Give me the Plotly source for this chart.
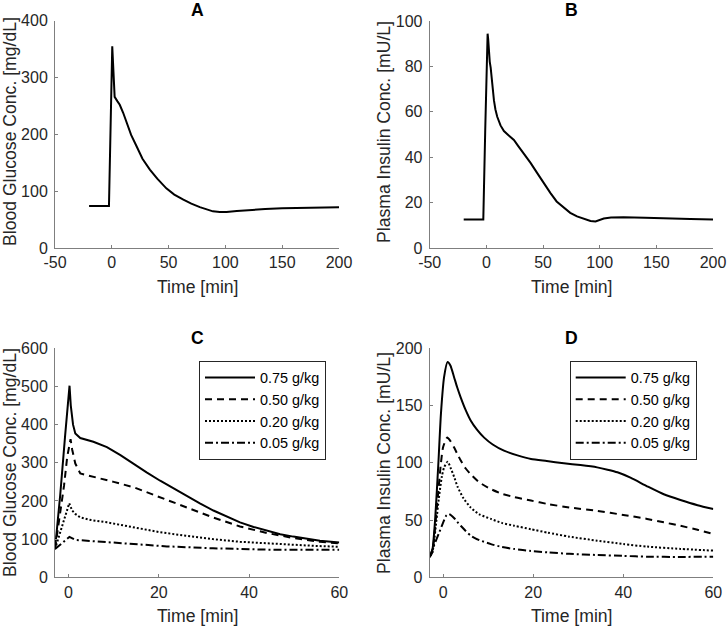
import plotly.graph_objects as go

# ---------------- data ----------------
# Panel A: blood glucose (single dose)
tA = [-20, -2.5, 0.4, 2.5, 5, 7, 10, 13, 17, 21.8, 27, 33.5, 40, 48, 55, 63, 70, 77.5, 84, 89, 95, 101, 110, 121.5, 135, 150, 175, 200]
gA = [74, 74, 355, 266, 258, 252, 238, 220, 199, 179, 157, 138, 122, 105, 94, 85, 78, 72, 67, 64.5, 63.5, 63.5, 65, 67, 68.5, 70, 71, 71.5]

# Panel B: plasma insulin (single dose)
tB = [-20, -2.7, -1, 0, 0.6, 1.1, 1.6, 2.2, 3, 3.8, 5, 6.7, 8, 9.6, 12.5, 15.5, 20, 24.3, 28, 33, 39, 44.9, 50, 56.6, 62, 68.4, 74, 80, 86, 91.9, 96.3, 100, 103.6, 110, 121, 140, 156.5, 180, 200]
iB = [12.6, 12.6, 52, 78, 90, 94.4, 92, 87, 82, 79.5, 72, 65, 61, 57.8, 54, 51.5, 49.5, 47.6, 45, 41.7, 37.5, 33, 29, 24.2, 20.5, 17.6, 15.5, 13.9, 12.8, 11.9, 11.7, 12.2, 13, 13.4, 13.5, 13.3, 13, 12.8, 12.6]

doses = ["0.75 g/kg", "0.50 g/kg", "0.20 g/kg", "0.05 g/kg"]

# Panel C: blood glucose for different doses
tC_075 = [-3, -1.85, -0.74, 0.22, 0.5, 1.0, 1.5, 2.6, 5.5, 7, 8.5, 11.5, 14.4, 17.3, 20.3, 23.2, 26.2, 29.1, 32.1, 35, 38, 41, 43.9, 46.9, 49.8, 52.8, 55.7, 60]
gC_075 = [74, 215, 374, 502, 450, 400, 377, 365, 355, 349, 341, 320, 297, 275, 253, 233, 214, 194, 175, 159, 144, 132, 122, 113, 106.6, 101, 96, 91]
tC_050 = [-3, -2, -1, -0.3, 0.45, 0.8, 1.5, 2.6, 5.5, 10, 14.4, 20.3, 26.2, 32, 38, 44, 49.8, 55.7, 60]
gC_050 = [74, 155, 240, 315, 362, 335, 298, 272, 264, 250, 236, 210, 183, 157, 133, 116, 103, 93, 89]
tC_020 = [-3, 0.15, 0.8, 1.5, 2.6, 5, 8.5, 14.4, 20.3, 26, 32, 38, 44, 50, 55, 60]
gC_020 = [74, 194, 175, 166, 157, 150, 144, 131, 118, 109, 100, 93, 88.5, 85, 82, 80]
tC_005 = [-3, 0.2, 1.5, 4, 7, 14.4, 21.8, 32, 44, 60]
gC_005 = [74, 106, 98, 96, 94, 87, 81, 76, 72.5, 72]

# Panel D: plasma insulin for different doses
tD_075 = [-3, -2.4, -1.8, -1.04, -0.5, 0.2, 0.96, 1.6, 2.4, 3.1, 3.9, 5, 6.1, 7.5, 9.1, 11, 13.5, 16.5, 19.5, 23, 26.8, 30.5, 34.2, 36.5, 38.7, 41.6, 45.3, 49, 52.7, 56.5, 60]
iD_075 = [17.5, 24, 50, 102, 143, 175, 188, 185, 175, 166, 157, 146, 137, 129, 122, 116, 110.6, 106.5, 103.3, 101.5, 99.6, 98, 96, 94, 91.7, 87, 79.5, 72.5, 67.5, 63, 59.7]
tD_050 = [-3, -2.4, -2, -1.2, -0.5, 0, 0.9, 1.6, 2.4, 3.1, 3.9, 5, 6.1, 8, 10.6, 13, 15.8, 19.5, 23.2, 28, 34.2, 40, 45.3, 49, 52.7, 56.5, 60]
iD_050 = [18, 22, 35, 70, 100, 114, 122, 119, 113.5, 108, 102, 95, 90, 83, 77, 73, 70, 67, 64, 61, 58, 54.5, 51, 48, 45, 41.5, 37.8]
tD_020 = [-3, -2.4, -1.5, -1, -0.3, 0.2, 1.0, 1.7, 2.4, 3.2, 4.5, 6.1, 8, 10.6, 13, 15.8, 19.5, 23.2, 28, 34.2, 40, 45.3, 52.7, 60]
iD_020 = [18, 22, 50, 68, 88, 96, 101, 95, 88, 79, 69, 61, 55, 51, 47.5, 45, 42, 39, 35.5, 32, 29, 26.8, 24.8, 23.3]
tD_005 = [-3, -2.15, -1, 0, 0.7, 1.2, 1.8, 2.4, 3.1, 3.9, 5, 6.1, 8, 10.6, 13, 15.8, 19.5, 23.2, 28, 34.2, 40, 45.3, 52.7, 60]
iD_005 = [18, 26.7, 38, 48, 54, 55.3, 54, 51.8, 48.5, 45, 40.5, 36.4, 32.5, 29, 26.5, 24.7, 23, 21.8, 20.5, 19.5, 18.7, 18, 17.8, 18]

# tick labels
xticksAB = [-50, 0, 50, 100, 150, 200]
yticksA = [0, 100, 200, 300, 400]
yticksB = [0, 20, 40, 60, 80, 100]
xticksCD = [0, 20, 40, 60]
yticksC = [0, 100, 200, 300, 400, 500, 600]
yticksD = [0, 50, 100, 150, 200]

# ---------------- figure ----------------
W, H = 728, 628
FONT = "Liberation Sans, Arial, Helvetica, sans-serif"
TXT = "#262626"
AX = "#7f7f7f"

def px_x(p):
    return p / W

def px_y(p):
    return 1 - p / H

dashes = ["solid", "7px,5px", "2px,2px", "8px,3px,2px,3px"]

fig = go.Figure()

fig.add_trace(go.Scatter(x=tA, y=gA, mode="lines", line=dict(color="black", width=2),
                         xaxis="x", yaxis="y", showlegend=False))
fig.add_trace(go.Scatter(x=tB, y=iB, mode="lines", line=dict(color="black", width=2),
                         xaxis="x2", yaxis="y2", showlegend=False))

C_series = [(tC_075, gC_075), (tC_050, gC_050), (tC_020, gC_020), (tC_005, gC_005)]
for (t, v), name, d in zip(C_series, doses, dashes):
    fig.add_trace(go.Scatter(x=t, y=v, mode="lines", name=name,
                             line=dict(color="black", width=2, dash=d),
                             xaxis="x3", yaxis="y3", legend="legend"))

D_series = [(tD_075, iD_075), (tD_050, iD_050), (tD_020, iD_020), (tD_005, iD_005)]
for (t, v), name, d in zip(D_series, doses, dashes):
    fig.add_trace(go.Scatter(x=t, y=v, mode="lines", name=name,
                             line=dict(color="black", width=2, dash=d, shape="spline", smoothing=0.6),
                             xaxis="x4", yaxis="y4", legend="legend2"))

def axis(domain, rng, ticks, anchor):
    return dict(domain=domain, range=rng, tickmode="array", tickvals=ticks,
                ticktext=[str(t) for t in ticks], showgrid=False, zeroline=False,
                showline=True, linecolor=AX, linewidth=1, mirror=False,
                ticks="inside", ticklen=3, tickcolor=AX, tickwidth=1,
                tickfont=dict(family=FONT, size=16, color=TXT), anchor=anchor,
                automargin=False, fixedrange=True)

# pixel geometry of plot areas
A_x = [55, 339]; A_y = [20.7, 248]
B_x = [429.7, 713]; B_y = [21, 248]
C_x = [55, 339.3]; C_y = [348.3, 577.3]
D_x = [429.7, 713.3]; D_y = [348.3, 577.3]

def dx(p):
    return [px_x(p[0]), px_x(p[1])]

def dy(p):
    return [px_y(p[1]), px_y(p[0])]

leg_common = dict(yanchor="top", xanchor="right", bordercolor=TXT, borderwidth=1, bgcolor="white",
                  font=dict(family=FONT, size=14.4, color="black"), tracegroupgap=0, itemwidth=50)

layout = dict(
    template="none",
    width=W, height=H, margin=dict(l=0, r=0, t=0, b=0, autoexpand=False),
    paper_bgcolor="white", plot_bgcolor="white",
    font=dict(family=FONT, color=TXT),
    xaxis=axis(dx(A_x), [-50, 200], xticksAB, "y"),
    yaxis=axis(dy(A_y), [0, 400], yticksA, "x"),
    xaxis2=axis(dx(B_x), [-50, 200], xticksAB, "y2"),
    yaxis2=axis(dy(B_y), [0, 100], yticksB, "x2"),
    xaxis3=axis(dx(C_x), [-3, 60], xticksCD, "y3"),
    yaxis3=axis(dy(C_y), [0, 600], yticksC, "x3"),
    xaxis4=axis(dx(D_x), [-3, 60], xticksCD, "y4"),
    yaxis4=axis(dy(D_y), [0, 200], yticksD, "x4"),
    legend=dict(x=px_x(326), y=px_y(360.7), **leg_common),
    legend2=dict(x=px_x(696.7), y=px_y(360.7), **leg_common),
)
fig.update_layout(**layout)
for k in ["yaxis", "yaxis2", "yaxis3", "yaxis4"]:
    fig.layout[k].ticklabelstandoff = 3

ann = []
def text(x, y, s, size=17.6, bold=False, angle=0):
    ann.append(dict(x=px_x(x), y=px_y(y), xref="paper", yref="paper", text=("<b>%s</b>" % s) if bold else s,
                    showarrow=False, xanchor="center", yanchor="middle", textangle=angle,
                    font=dict(family=FONT, size=size, color="black" if bold else TXT)))

text(197, 10, "A", bold=True)
text(571, 10, "B", bold=True)
text(197, 337.5, "C", bold=True)
text(571.5, 337.5, "D", bold=True)
text(197, 287, "Time [min]")
text(571, 287, "Time [min]")
text(197, 616, "Time [min]")
text(571.5, 616, "Time [min]")
text(10, 132, "Blood Glucose Conc. [mg/dL]", angle=-90)
text(384, 132, "Plasma Insulin Conc. [mU/L]", angle=-90)
text(10, 463, "Blood Glucose Conc. [mg/dL]", angle=-90)
text(384, 463, "Plasma Insulin Conc. [mU/L]", angle=-90)
fig.update_layout(annotations=ann)

fig.write_html("out.html", config={"displayModeBar": False, "staticPlot": True},
               post_script="document.body.style.margin='0';document.body.style.overflow='hidden';")
